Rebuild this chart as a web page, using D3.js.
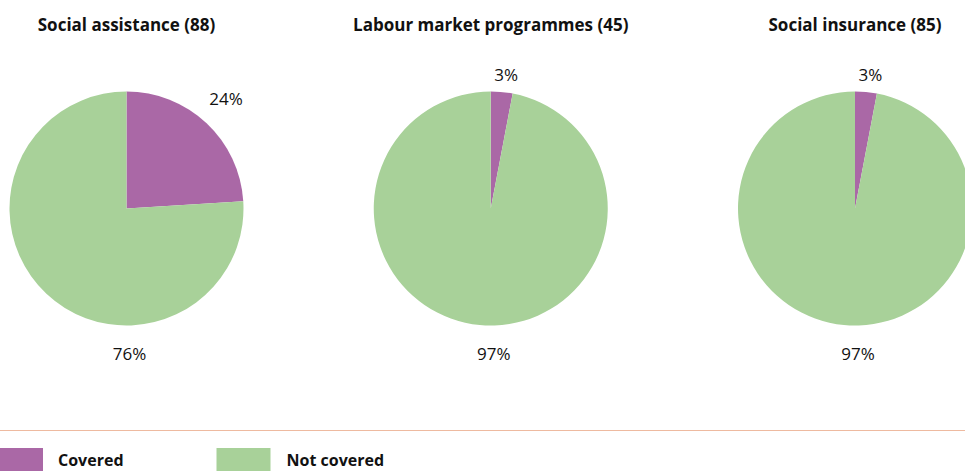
<!DOCTYPE html>
<html>
<head>
<meta charset="utf-8">
<script src="https://cdn.jsdelivr.net/npm/d3@7"></script>
<style>
  html, body { margin: 0; padding: 0; background: #fff; }
  svg { display: block; font-family: "Open Sans", "Noto Sans", sans-serif; }
</style>
</head>
<body>
<svg id="chart" width="965" height="471"></svg>
<script>
// Programme types and share of cases covered / not covered (%)
const programmes = ["Social assistance (88)", "Labour market programmes (45)", "Social insurance (85)"];
const covered = [24, 3, 3];
const notCovered = [76, 97, 97];
const categories = ["Covered", "Not covered"];
const colors = ["#aa68a6", "#a8d199"];

const W = 965, H = 471;
const svg = d3.select("#chart");

const radius = 117;
const cy = 208.5;
const cx = d3.scalePoint().domain(programmes).range([126.5, 855]);

const pie = d3.pie().sort(null).value(d => d.value);
const arc = d3.arc().innerRadius(0).outerRadius(radius);

const labelSize = 17;
const labelGap = 7;

programmes.forEach((name, i) => {
  const data = [
    { key: categories[0], value: covered[i] },
    { key: categories[1], value: notCovered[i] }
  ];
  const arcs = pie(data);
  const g = svg.append("g").attr("transform", `translate(${cx(name)},${cy})`);

  g.selectAll("path")
    .data(arcs)
    .join("path")
    .attr("d", arc)
    .attr("fill", (d, j) => colors[j]);

  // title
  svg.append("text")
    .attr("x", cx(name))
    .attr("y", 30.5)
    .attr("text-anchor", "middle")
    .attr("font-weight", "bold")
    .attr("font-size", 17)
    .attr("fill", "#111")
    .text(name);

  // covered share: placed outside the slice along its mid-angle,
  // pushed out far enough that the text box clears the rim
  const t = g.append("text")
    .attr("text-anchor", "middle")
    .attr("dy", "0.35em")
    .attr("font-size", labelSize)
    .attr("fill", "#111")
    .text(covered[i] + "%");
  const bb = t.node().getBBox();
  const mid = (arcs[0].startAngle + arcs[0].endAngle) / 2;
  const sx = Math.sin(mid), sy = -Math.cos(mid);
  const half = (bb.width / 2) * Math.abs(sx) + (labelSize * 0.45) * Math.abs(sy);
  const rr = radius + labelGap + half;
  t.attr("x", rr * sx + 3).attr("y", rr * sy - 9 * Math.abs(sx));

  // not-covered share: below the pie
  g.append("text")
    .attr("x", 3)
    .attr("y", radius + 28.5)
    .attr("dy", "0.35em")
    .attr("text-anchor", "middle")
    .attr("font-size", labelSize)
    .attr("fill", "#111")
    .text(notCovered[i] + "%");
});

// separator line above legend
svg.append("line")
  .attr("x1", 0).attr("x2", W)
  .attr("y1", 430.5).attr("y2", 430.5)
  .attr("stroke", "#eebaa0")
  .attr("stroke-width", 1.2);

// legend
const legendX = d3.scalePoint().domain(categories).range([0, 216.5]);
const lg = svg.append("g");
categories.forEach((k, i) => {
  lg.append("rect")
    .attr("x", legendX(k))
    .attr("y", 448)
    .attr("width", i === 0 ? 43 : 54)
    .attr("height", 30)
    .attr("fill", colors[i]);
  lg.append("text")
    .attr("x", legendX(k) + (i === 0 ? 58 : 70))
    .attr("y", 466)
    .attr("font-weight", "bold")
    .attr("font-size", 16)
    .attr("fill", "#111")
    .text(k);
});
</script>
</body>
</html>
